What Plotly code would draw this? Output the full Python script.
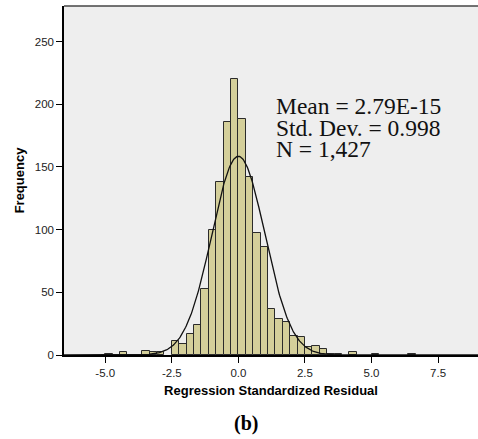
import plotly.graph_objects as go
import numpy as np

# ---- data ----
bin_width = 2.5 / 9
bin_left = [-5.000, -4.444, -3.611, -3.333, -3.056,
            -2.500, -2.222, -1.944, -1.667, -1.389, -1.111, -0.833, -0.556, -0.278,
            0.000, 0.278, 0.556, 0.833, 1.111, 1.389, 1.667, 1.944, 2.222,
            2.500, 2.778, 3.056, 3.333, 3.611, 4.167, 5.000, 6.389]
counts = [1, 2, 3, 2, 2,
          11, 9, 17, 24, 53, 100, 138, 186, 220,
          188, 142, 97, 86, 37, 29, 26, 15, 14,
          6, 7, 5, 1, 1, 2, 1, 1]
mean_val = 2.79e-15
std_val = 0.998
n_val = 1427
x_ticks = [-5.0, -2.5, 0.0, 2.5, 5.0, 7.5]
x_tick_labels = ["-5.0", "-2.5", "0.0", "2.5", "5.0", "7.5"]
y_ticks = [0, 50, 100, 150, 200, 250]
stats_lines = ["Mean = 2.79E-15", "Std. Dev. = 0.998", "N = 1,427"]

W, H = 478, 439
L, R, T, B = 64, 0, 5.5, 84
plot_w = W - L - R
plot_h = H - T - B

def px(x):
    return (x - L) / plot_w

def py(y):
    return (H - B - y) / plot_h

centers = [b + bin_width / 2 for b in bin_left]

fig = go.Figure()
fig.add_trace(go.Bar(
    x=centers, y=counts, width=bin_width,
    marker=dict(color="#D4CF9A", line=dict(color="#2b2b2b", width=1)),
    hoverinfo="x+y", showlegend=False,
))

xs = np.linspace(-6.55, 9.0, 600)
ys = n_val * bin_width / (std_val * np.sqrt(2 * np.pi)) * np.exp(-0.5 * ((xs - mean_val) / std_val) ** 2)
fig.add_trace(go.Scatter(x=xs, y=ys, mode="lines",
                         line=dict(color="#111111", width=1.3),
                         hoverinfo="skip", showlegend=False))

ann = []
for i, line in enumerate(stats_lines):
    ann.append(dict(text=line, xref="paper", yref="paper",
                    x=px(274), y=py(106 + 21.5 * i), xanchor="left", yanchor="middle",
                    showarrow=False,
                    font=dict(family="Liberation Serif", size=23.5, color="#111111")))
ann.append(dict(text="<b>(b)</b>", xref="paper", yref="paper",
                x=px(246), y=py(424), xanchor="center", yanchor="middle",
                showarrow=False,
                font=dict(family="Liberation Serif", size=20, color="#000000")))

fig.update_layout(
    width=W, height=H,
    margin=dict(l=L, r=R, t=T, b=B, pad=0),
    paper_bgcolor="white", plot_bgcolor="#EEEEEE",
    bargap=0,
    annotations=ann,
    shapes=[dict(type="line", xref="paper", yref="paper", x0=0, x1=1, y0=1, y1=1,
                 line=dict(color="#444444", width=1.5))],
    xaxis=dict(range=[-6.55, 9.0], tickvals=x_ticks, ticktext=x_tick_labels,
               ticks="outside", ticklen=6, tickcolor="#000", tickwidth=1,
               showline=True, linecolor="#000", linewidth=1.5,
               showgrid=False, zeroline=False,
               tickfont=dict(family="Liberation Sans", size=11.5, color="#222"),
               title=dict(text="<b>Regression Standardized Residual</b>", standoff=8,
                          font=dict(family="Liberation Sans", size=13, color="#000"))),
    yaxis=dict(range=[0, 278.3], tickvals=y_ticks,
               ticks="outside", ticklen=6, tickcolor="#000", tickwidth=1,
               showline=True, linecolor="#000", linewidth=1.5,
               showgrid=False, zeroline=False,
               tickfont=dict(family="Liberation Sans", size=11.5, color="#222"),
               title=dict(text="<b>Frequency</b>", standoff=7,
                          font=dict(family="Liberation Sans", size=13, color="#000"))),
)

fig.write_html("out.html", config={"displayModeBar": False},
               post_script="document.body.style.margin='0';document.body.style.padding='0';")
